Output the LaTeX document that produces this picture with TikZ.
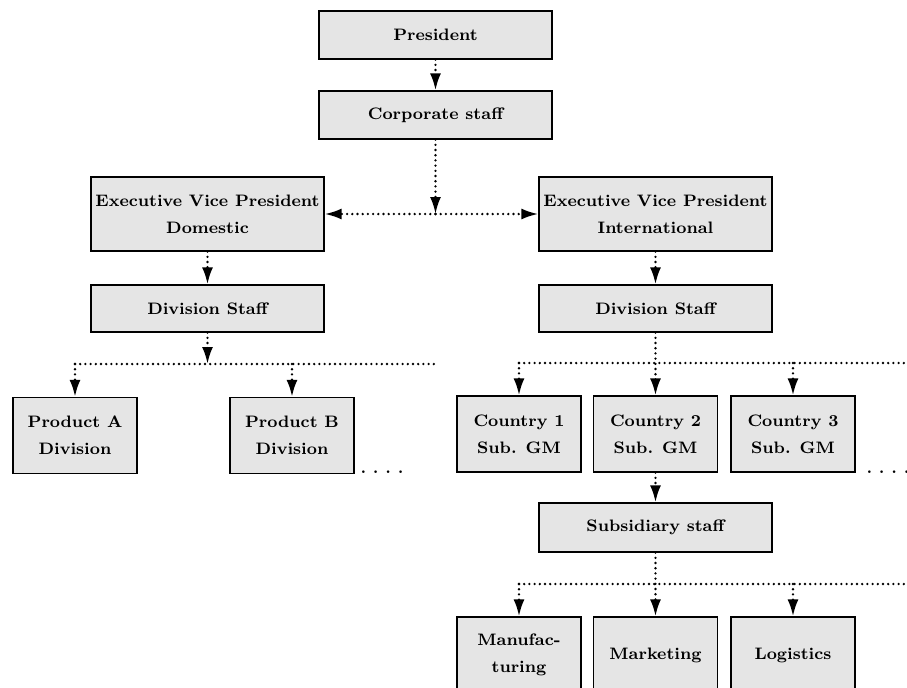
\documentclass[tikz,border=0pt]{standalone}
\usepackage{tikz}
\usetikzlibrary{arrows.meta}

\tikzset{
  unit/.style={draw=black, line width=0.6pt, fill=black!10, align=center, inner sep=0pt,
    font=\fontsize{8.3}{13.3}\selectfont\bfseries},
  wide/.style={unit, minimum width=116.5pt},
  narrow/.style={unit, minimum width=62pt, minimum height=38pt},
  link/.style={line width=1.3pt, dash pattern=on 0pt off 2.6pt, line cap=round},
  tolink/.style={link, -{Latex[length=8.5pt,width=5.5pt]}}
}

\begin{document}
\begin{tikzpicture}[x=0.5pt, y=-0.5pt]
    \clip (0,0) rectangle (907,687);

    % head office
    \node[wide, minimum height=24pt] (pres) at (435.5,35) {President};
    \node[wide, minimum height=24pt] (corp) at (435.5,115) {Corporate staff};

    \node[wide, minimum height=37pt] (evpd) at (207.5,214) {Executive Vice President\\Domestic};
    \node[wide, minimum height=37pt] (evpi) at (655.5,214) {Executive Vice President\\International};
    \coordinate (split) at (435.5,214);

    \draw[tolink] (pres) -- (corp);
    \draw[tolink] (corp) -- (split);
    \draw[tolink] (split) -- (evpd);
    \draw[tolink] (split) -- (evpi);

    % domestic side
    \node[wide, minimum height=23.5pt] (divd) at (207.5,308.5) {Division Staff};
    \node[narrow] (proda) at (75,435.5) {Product A\\Division};
    \node[narrow] (prodb) at (292,435.5) {Product B\\Division};
    \node[unit, draw=none, fill=none, anchor=base] (moreprod) at (382,473) {.\ .\ .\ .};

    \coordinate (dbar) at (207.5,364);
    \coordinate (dbarl) at (75,364);
    \coordinate (dbarr) at (438,364);
    \draw[tolink] (evpd) -- (divd);
    \draw[tolink] (divd) -- (dbar);
    \draw[link] (dbarl) -- (dbarr);
    \draw[tolink] (dbarl) -- (proda);
    \draw[tolink] (prodb |- dbar) -- (prodb);

    % international side
    \node[wide, minimum height=23.5pt] (divi) at (655.5,308.5) {Division Staff};
    \node[narrow] (cty1) at (519,434) {Country 1\\Sub. GM};
    \node[narrow] (cty2) at (655.5,434) {Country 2\\Sub. GM};
    \node[narrow] (cty3) at (793,434) {Country 3\\Sub. GM};
    \node[unit, draw=none, fill=none, anchor=base] (morecty) at (888,473) {.\ .\ .\ .};

    \coordinate (ibar) at (655.5,363);
    \coordinate (ibarl) at (519,363);
    \coordinate (ibarr) at (910,363);
    \draw[tolink] (evpi) -- (divi);
    \draw[link] (ibarl) -- (ibarr);
    \draw[tolink] (divi) -- (cty2);
    \draw[tolink] (ibarl) -- (cty1);
    \draw[tolink] (cty3 |- ibar) -- (cty3);

    % subsidiary
    \node[wide, minimum height=24.5pt] (subs) at (655.5,527.5) {Subsidiary staff};
    \node[narrow] (manu) at (519,655) {Manufac-\\turing};
    \node[narrow] (mark) at (655.5,655) {Marketing};
    \node[narrow] (logi) at (793,655) {Logistics};

    \coordinate (sbarl) at (519,584);
    \coordinate (sbarr) at (910,584);
    \draw[tolink] (cty2) -- (subs);
    \draw[link] (sbarl) -- (sbarr);
    \draw[tolink] (subs) -- (mark);
    \draw[tolink] (sbarl) -- (manu);
    \draw[tolink] (logi |- sbarl) -- (logi);

\end{tikzpicture}
\end{document}
